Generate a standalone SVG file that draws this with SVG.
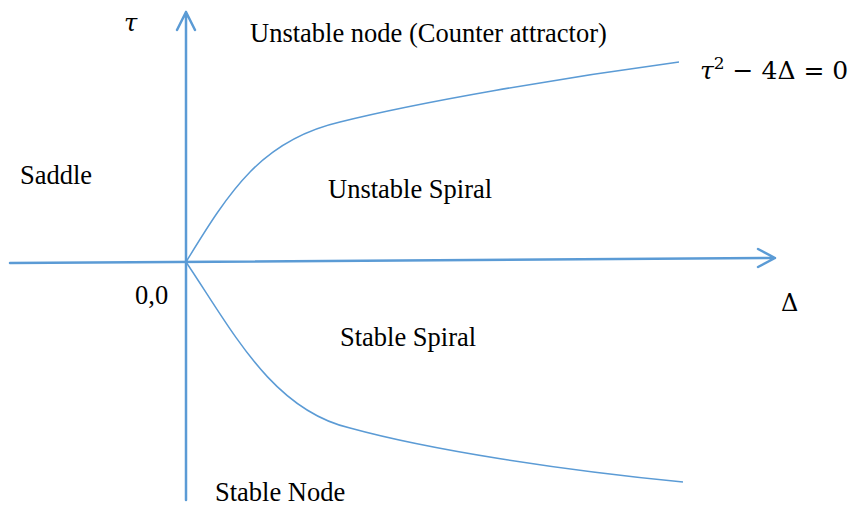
<svg xmlns="http://www.w3.org/2000/svg" width="850" height="507" viewBox="0 0 850 507">
  <style>
    .axis { stroke: #5B9BD5; stroke-width: 2.5; fill: none; stroke-linecap: round; stroke-linejoin: round; }
    .curve { stroke: #5B9BD5; stroke-width: 1.5; fill: none; }
    .lbl { font-family: "Liberation Serif", "Times New Roman", serif; font-size: 26.5px; fill: #000; }
    .math { font-family: "DejaVu Serif", "Liberation Serif", serif; font-size: 24px; fill: #000; }
    .eq { font-size: 25px; }
  </style>
  <rect width="850" height="507" fill="#fff"/>
  <g id="connectors">
    <!-- tau axis -->
    <path class="axis" d="M186,500 L186,12 M177,30 L186,12 L195,30"/>
    <!-- delta axis -->
    <path class="axis" d="M10,263 L775,258 M758,249 L775,258 L758,267"/>
    <!-- parabola tau^2 - 4 delta = 0 -->
    <path class="curve" d="M186,262 C230,190 262,140 340,122 C420,102 560,78 679,62"/>
    <path class="curve" d="M186,262 C232,330 272,410 350,428 C430,450 560,470 683,482"/>
  </g>
  <g id="labels">
    <text class="math" x="124" y="31" font-style="italic">τ</text>
    <text class="lbl" x="250" y="42">Unstable node (Counter attractor)</text>
    <text class="math eq" x="700" y="79" font-style="italic">τ<tspan dy="-10" font-size="17" font-style="normal">2</tspan><tspan dy="10" font-style="normal"> − 4Δ = 0</tspan></text>
    <text class="lbl" x="20" y="184">Saddle</text>
    <text class="lbl" x="328" y="198">Unstable Spiral</text>
    <text class="lbl" x="135" y="304">0,0</text>
    <text class="math" x="781" y="311">Δ</text>
    <text class="lbl" x="340" y="346">Stable Spiral</text>
    <text class="lbl" x="215" y="501">Stable Node</text>
  </g>
</svg>
